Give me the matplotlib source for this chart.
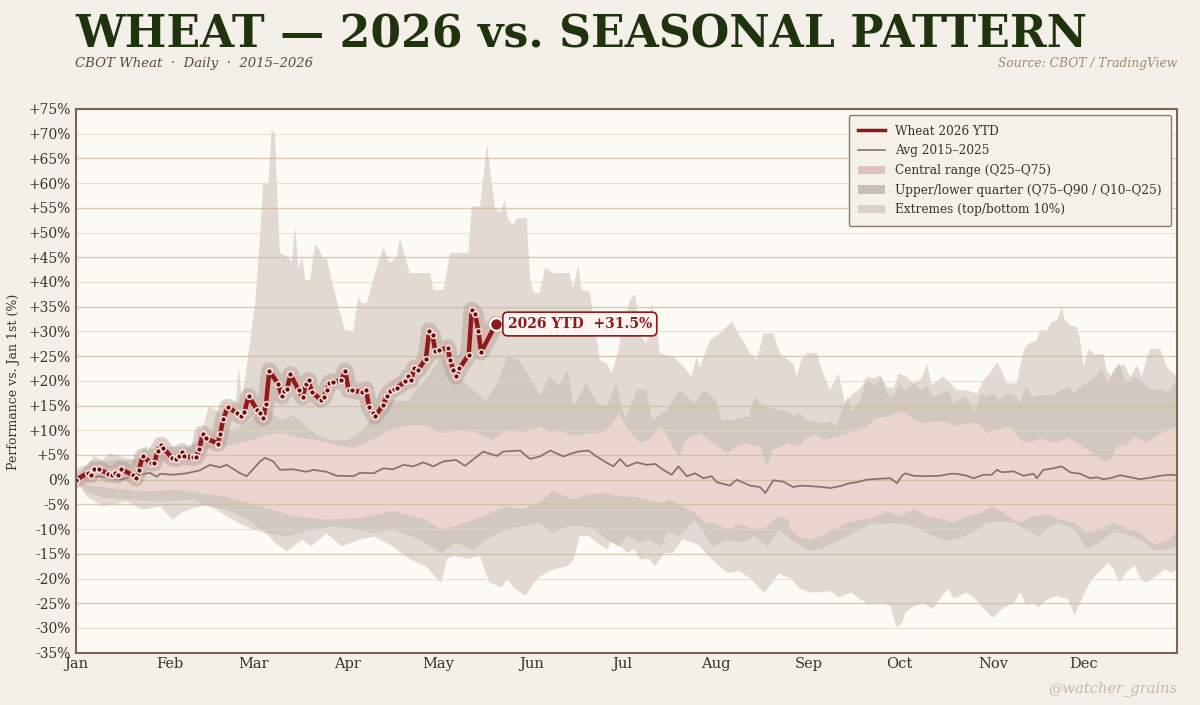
import matplotlib
matplotlib.use("Agg")
import matplotlib.pyplot as plt
from matplotlib.lines import Line2D
from matplotlib.patches import Patch
import numpy as np

# ---------------- DATA ----------------
months = ['Jan', 'Feb', 'Mar', 'Apr', 'May', 'Jun', 'Jul', 'Aug', 'Sep', 'Oct', 'Nov', 'Dec']
month_start_days = [0, 31, 59, 90, 120, 151, 181, 212, 243, 273, 304, 334]
ytick_vals = list(range(-35, 80, 5))

# 2026 YTD (day of year, % vs Jan 1st)
ytd_day = [0, 3.9, 5.0, 6.1, 7.7, 10.5, 11.9, 13.0, 13.8, 14.9, 18.8, 19.9, 20.8, 22.1, 24.9, 26.0,
           27.1, 28.2, 29.0, 31.8, 33.1, 34.0, 35.1, 35.9, 38.7, 39.8, 40.9, 42.0, 43.1, 47.0, 47.8,
           48.8, 50.3, 53.3, 54.7, 55.8, 57.2, 60.0, 61.0, 62.1, 63.0, 64.1, 67.1, 68.2, 69.1, 70.0,
           71.1, 73.8, 75.1, 76.2, 77.1, 78.2, 81.2, 82.1, 83.1, 84.0, 85.1, 87.9, 89.2, 90.4, 91.5,
           94.8, 96.1, 97.2, 98.3, 99.1, 101.9, 103.1, 104.2, 105.3, 106.3, 109.2, 110.2, 111.0,
           112.2, 113.3, 116.0, 117.1, 118.2, 119.1, 120.4, 123.2, 124.1, 125.1, 126.0, 127.1,
           130.2, 131.2, 132.3, 133.4, 134.3, 139.2]
ytd_val = [0.0, 1.35, 1.0, 2.2, 2.2, 1.2, 1.0, 1.35, 0.9, 2.2, 0.9, 0.3, 1.9, 4.7, 3.4, 3.4,
           5.9, 7.0, 6.4, 4.4, 4.2, 4.7, 5.7, 4.7, 4.5, 4.6, 6.2, 9.3, 8.4, 7.3, 9.3,
           12.2, 14.7, 13.5, 12.8, 13.6, 16.9, 14.2, 13.4, 12.5, 15.4, 22.0, 19.3, 16.9, 17.9, 18.4,
           21.3, 18.1, 16.7, 19.3, 20.1, 17.7, 16.2, 16.7, 18.2, 19.6, 19.8, 20.1, 22.0, 18.2, 18.1,
           17.7, 18.2, 14.7, 13.5, 12.8, 15.2, 17.0, 17.9, 18.4, 18.6, 19.9, 20.9, 20.1,
           22.6, 22.1, 24.5, 30.1, 29.2, 26.0, 26.2, 26.7, 24.2, 22.1, 20.9, 22.5,
           25.3, 34.3, 33.6, 30.1, 25.8, 31.5]

# Average 2015-2025
avg_day = [0, 8, 14.6, 21.2, 24.5, 26.8, 27.9, 32.3, 36.7, 41.1, 44.4, 47.7, 50, 54.4, 56.6, 61,
           62.7, 65.4, 67.6, 72, 76.5, 78.7, 83.1, 86.4, 91.9, 94.2, 98.6, 101.9, 105.2, 108.5,
           111.8, 115.1, 118.5, 121.8, 126, 129, 135, 139.5, 141.7, 147.2, 150.5, 153.8, 157.2,
           161.6, 163.2, 166.5, 169.9, 172.6, 176, 178.2, 180.4, 182.6, 185.9, 189.2, 192, 194.7,
           197.5, 199.7, 202.5, 205.2, 208, 210.7, 212.4, 216.8, 219, 223.5, 226.8, 228.5, 231.2,
           234.5, 237.8, 240.1, 243.4, 247.8, 250, 253.3, 256.6, 259, 262, 266.6, 269.9, 272.2,
           273.8, 274.9, 277.6, 282.1, 286.5, 289.8, 292, 295.3, 297.6, 300.9, 303.6, 305.3,
           306.9, 310.8, 314.1, 317.4, 318.5, 320.7, 324, 326.8, 329.6, 332.9, 336.2, 338.4,
           340.6, 342.8, 346.2, 349.5, 352.8, 356.1, 359.4, 362.7, 364.4]
avg_val = [0.0, 0.7, 0.0, 1.0, 1.4, 0.6, 1.2, 1.0, 1.3, 1.9, 3.0, 2.5, 3.0, 1.3, 0.7, 3.7,
           4.4, 3.7, 2.0, 2.1, 1.6, 2.0, 1.6, 0.8, 0.7, 1.4, 1.3, 2.3, 2.1, 3.0,
           2.7, 3.5, 2.7, 3.7, 4.0, 2.8, 5.7, 4.8, 5.7, 5.9, 4.2, 4.7, 5.9,
           4.7, 5.1, 5.7, 5.9, 4.7, 3.4, 2.7, 4.2, 2.7, 3.5, 3.0, 3.2, 2.0,
           1.0, 2.7, 0.7, 1.3, 0.3, 0.7, -0.5, -1.2, 0.0, -1.2, -1.5, -2.7, -0.1,
           -0.4, -1.5, -1.2, -1.3, -1.5, -1.7, -1.3, -0.7, -0.5, 0.0, 0.2, 0.3, -0.7,
           0.8, 1.3, 0.8, 0.7, 0.8, 1.2, 1.2, 0.8, 0.3, 1.0, 1.0, 2.0,
           1.5, 1.7, 0.8, 1.2, 0.3, 2.0, 2.3, 2.7, 1.5, 1.2, 0.3, 0.5,
           0.1, 0.3, 0.9, 0.5, 0.1, 0.4, 0.8, 1.0, 0.9]

# Seasonal distribution envelopes (day of year, %)
max_day = [0, 3.5, 6, 9, 11, 15, 19, 23, 27, 31, 37, 41, 44, 47, 49, 51, 53, 54, 55, 57.5, 59.4,
           61, 62, 63.8, 64.9, 66, 66.5, 67.6, 70.4, 71.5, 72.6, 73.7, 75, 76, 77.6, 79.2, 80.5,
           82, 83, 85.3, 87, 89.2, 91.9, 93.6, 94.8, 96.4, 99.7, 101.9, 104.1, 106.3, 107.4,
           109.1, 110.7, 117.4, 118.5, 121.8, 122.9, 124, 130.1, 131.2, 134, 136.2, 137.3, 138.9,
           140.5, 142.2, 143.3, 145, 146.1, 149.4, 150.5, 151.6, 153.8, 155.5, 158.2, 163.7,
           164.8, 166.5, 167.6, 170.4, 172, 173.7, 175.9, 177.6, 179.8, 181.5, 183.7, 185.4, 187,
           189.2, 190.9, 192.5, 193.6, 198, 201.3, 204.1, 205.7, 206.8, 210.2, 213.5, 217.4,
           220.2, 223.5, 225.7, 227.9, 231.2, 233.4, 237.8, 238.9, 240.6, 242.3, 245.6, 247.3,
           250, 252.8, 255, 257.7, 260, 262.2, 264.4, 266.6, 268.8, 271.1, 272.7, 274.9, 277.6,
           280.4, 282.1, 283.7, 286.5, 287.6, 289.8, 292, 295.3, 298.7, 300.9, 303.6, 305.3,
           306.9, 308.6, 311.9, 314.1, 315.8, 318.5, 319.6, 321.8, 323.5, 325.1, 326.8, 327.9,
           329.6, 331.8, 332.9, 334, 335.7, 337.9, 340.6, 341.7, 343.4, 345, 347.3, 349.5, 351.7,
           353.4, 355, 356.1, 359.4, 361.6, 365]
max_val = [0, 2.7, 4.7, 4.0, 5.4, 4.7, 4.0, 6.7, 6.0, 6.7, 6.7, 8.1, 14.8, 14.0, 12.1, 15.0, 16.0, 23.0,
           16.0, 27.0, 35.8, 49.0, 59.7, 60.0, 70.8, 70.0, 61.0, 45.9, 45.0, 43.9, 51.5, 43.0, 45.0,
           40.4, 40.4, 47.5, 46.8, 44.5, 45.0, 39.0, 35.0, 30.3, 30.0, 37.0, 35.7, 35.7, 43.0, 46.9,
           43.8, 45.0, 48.9, 45.0, 41.8, 41.8, 38.4, 38.4, 41.8, 45.9, 45.9, 55.3, 55.3, 68.0, 62.7,
           55.0, 54.0, 56.6, 52.6, 51.5, 52.9, 52.9, 41.1, 37.8, 37.8, 43.0, 41.8, 41.8, 38.7, 43.4,
           38.4, 38.0, 31.0, 24.2, 23.6, 21.5, 26.3, 31.6, 36.4, 37.7, 29.0, 27.6, 35.7, 31.0, 25.6,
           24.9, 22.9, 20.9, 24.9, 22.6, 28.3, 29.6, 32.0, 29.0, 25.6, 24.2, 29.6, 29.6, 25.5, 23.5,
           20.8, 24.5, 25.6, 25.6, 22.1, 18.1, 21.5, 15.4, 17.4, 18.5, 20.8, 20.5, 21.1, 18.8, 18.5,
           21.5, 21.0, 19.5, 20.5, 23.5, 19.1, 20.5, 20.9, 19.5, 18.1, 18.1, 17.4, 20.1, 22.1, 23.8,
           22.1, 19.5, 19.5, 26.2, 27.5, 28.2, 30.2, 30.2, 31.9, 32.2, 34.9, 32.2, 31.2, 30.9, 28.2,
           22.8, 26.5, 25.2, 25.5, 22.1, 20.8, 22.1, 23.5, 20.8, 23.2, 20.8, 24.8, 26.5, 26.5, 22.8,
           20.8]

q90_day = [0, 3, 7, 12, 18, 24, 30, 36, 42, 47, 52, 56, 60, 64, 68, 72, 76, 80, 85, 90, 95, 100,
           105, 110, 114, 118, 121, 124, 128, 132, 136, 140, 143, 147, 150, 154, 157, 160, 163, 165,
           169, 173, 176, 179, 182, 186, 189, 191, 196, 200, 205, 208, 212, 214, 218, 223, 225, 228,
           233, 236, 238, 240, 242, 245, 248, 250, 252, 254, 256, 257, 260, 262, 263, 265, 267, 269,
           271, 273, 275, 278, 280, 282, 284, 287, 289, 291, 293, 295, 298, 300, 302, 304, 306, 309,
           311, 313, 315, 317, 320, 324, 326, 329, 331, 333, 335, 336, 338, 340, 342, 344, 346, 348,
           351, 353, 355, 357, 359, 362, 365]
q90_val = [0, 2.5, 3.5, 4.0, 4.0, 4.5, 5.0, 6.0, 8.0, 10.0, 10.0, 11.0, 13.0, 14.0, 12.0, 13.0, 11.0,
           9.0, 8.0, 8.0, 10.0, 14.0, 16.0, 16.0, 19.0, 22.0, 25.0, 22.0, 20.0, 18.0, 16.0, 20.0, 25.0,
           24.0, 21.0, 17.0, 20.9, 18.9, 22.2, 14.8, 19.5, 15.5, 14.8, 19.5, 12.1, 18.2, 18.2, 12.1,
           14.1, 18.2, 15.5, 18.2, 16.2, 12.1, 12.1, 12.8, 16.8, 14.8, 14.1, 13.6, 12.8, 13.5, 12.1,
           11.7, 11.4, 11.8, 10.7, 14.1, 16.8, 13.8, 16.1, 19.8, 20.1, 18.8, 20.8, 17.1, 16.8, 19.5,
           18.1, 19.5, 18.1, 19.0, 16.8, 17.5, 18.1, 15.4, 16.4, 16.8, 13.8, 17.4, 16.8, 17.4, 16.1,
           17.4, 17.1, 15.8, 18.8, 16.8, 17.1, 17.1, 18.1, 18.8, 17.4, 18.8, 19.5, 20.1, 20.8, 22.5,
           19.5, 22.1, 23.5, 19.5, 20.8, 20.1, 18.8, 18.1, 18.4, 17.8, 20.1]

q75_day = [0, 3, 7, 12, 18, 25, 31, 38, 45, 52, 58, 63, 68, 74, 80, 86, 92, 98, 104, 110, 116, 121,
           126, 132, 138, 143, 148, 154, 158, 160, 165, 170, 174, 177, 180, 183, 187, 190, 194, 198,
           200, 202, 207, 211, 216, 218, 222, 227, 229, 231, 236, 240, 242, 245, 248, 251, 256, 259,
           262, 265, 269, 272, 274, 278, 281, 284, 289, 292, 295, 299, 302, 305, 309, 311, 313, 316,
           320, 324, 329, 333, 337, 341, 343, 345, 348, 351, 353, 355, 357, 360, 362, 365]
q75_val = [0, 1.5, 2.0, 2.5, 2.5, 3.5, 4.0, 5.0, 6.5, 7.0, 8.0, 9.0, 9.5, 8.5, 8.0, 7.0, 6.5, 8.0,
           10.0, 11.0, 11.0, 9.4, 10.0, 9.7, 8.0, 10.1, 9.5, 10.8, 9.4, 10.0, 8.8, 9.4, 9.4, 10.8,
           13.5, 10.1, 7.4, 8.1, 10.8, 6.7, 4.7, 8.1, 9.4, 7.4, 5.4, 6.5, 7.4, 6.5, 2.7, 6.1, 7.4,
           6.7, 8.4, 9.1, 8.1, 8.5, 9.4, 10.1, 10.7, 12.4, 12.8, 13.4, 13.8, 12.1, 11.4, 11.7, 11.7,
           10.7, 11.4, 11.4, 9.4, 10.0, 10.7, 10.0, 8.1, 7.4, 8.4, 7.4, 8.4, 7.0, 5.4, 3.7, 4.0, 6.7,
           7.0, 8.7, 8.1, 7.4, 8.4, 9.4, 10.1, 10.7]

q25_day = [0, 3, 11, 22, 33, 44, 50, 61, 72, 83, 94, 105, 116, 121, 126, 132, 143, 148, 154, 158,
           165, 170, 176, 180, 185, 189, 193, 197, 201, 205, 209, 212, 216, 220, 225, 229, 233, 236,
           237, 240, 243, 247, 251, 256, 260, 264, 269, 273, 278, 282, 287, 291, 295, 300, 304, 309,
           313, 317, 322, 326, 331, 335, 339, 344, 348, 353, 355, 358, 362, 365]
q25_val = [0, -1.0, -1.7, -2.4, -2.0, -3.0, -3.4, -5.4, -7.4, -8.1, -7.8, -6.4, -8.1, -10.0, -9.4,
           -8.1, -5.4, -6.0, -4.5, -2.3, -4.0, -3.0, -2.7, -3.4, -3.4, -4.0, -4.7, -4.0, -5.4, -6.7,
           -8.8, -8.8, -10.1, -9.0, -10.1, -9.5, -7.4, -8.0, -10.1, -11.7, -12.1, -11.5, -10.1, -8.7,
           -8.1, -7.8, -6.4, -7.4, -6.0, -7.4, -8.0, -8.7, -7.4, -6.7, -5.4, -7.4, -8.7, -7.4, -7.0,
           -8.0, -8.7, -10.7, -10.1, -8.7, -9.7, -10.7, -12.1, -13.1, -12.1, -10.7]

q10_day = [0, 3.5, 9, 17, 28, 39, 44, 50, 57, 63, 70, 78, 85, 92, 99, 105, 114, 121, 126, 132, 136,
           143, 148, 154, 158, 163, 168, 172, 176, 180, 183, 187, 190, 194, 196, 200, 205, 208, 211,
           216, 220, 225, 229, 233, 237, 240, 243, 247, 251, 256, 260, 264, 267, 271, 275, 280, 284,
           289, 293, 298, 302, 306, 311, 315, 319, 322, 326, 331, 335, 339, 344, 348, 353, 357, 360,
           365]
q10_val = [0, -2.4, -3.7, -4.0, -4.4, -4.0, -5.4, -6.1, -8.1, -10.8, -11.5, -10.1, -9.4, -10.0,
           -10.8, -10.1, -12.1, -14.8, -12.8, -14.1, -12.1, -10.0, -9.4, -8.8, -10.8, -9.4, -9.4,
           -10.0, -12.1, -13.5, -11.4, -12.8, -12.1, -13.5, -10.5, -11.4, -8.1, -10.5, -13.5, -12.1,
           -12.8, -11.4, -13.5, -10.1, -12.1, -13.4, -14.4, -14.0, -12.8, -11.4, -10.1, -8.7, -9.0,
           -8.7, -9.0, -10.0, -11.4, -12.4, -11.8, -10.5, -8.7, -8.4, -8.7, -10.1, -11.4, -9.8, -8.7,
           -10.1, -14.1, -12.8, -10.4, -11.1, -12.1, -14.1, -14.4, -13.4]

min_day = [0, 3.5, 9, 17, 22, 28, 32, 35, 39, 44, 50, 54, 59, 63, 66, 70, 72, 75, 78, 83, 88, 94,
           99, 105, 111, 116, 121, 123, 125, 130, 134, 135, 137, 141, 143, 145, 149, 152, 154, 158,
           163, 165, 167, 170, 173, 176, 178, 179, 183, 185, 187, 190, 192, 195, 198, 201, 206, 211,
           216, 220, 224, 228, 230, 233, 237, 240, 243, 247, 250, 253, 257, 260, 263, 267, 270, 272,
           274, 275, 278, 281, 284, 287, 289, 291, 293, 295, 298, 300, 304, 307, 311, 313, 315, 317,
           319, 322, 325, 329, 331, 333, 335, 337, 340, 342, 344, 346, 348, 351, 353, 355, 358, 361,
           363, 365]
min_val = [0, -3.4, -5.4, -4.4, -6.1, -5.4, -8.1, -6.7, -5.7, -5.1, -7.4, -8.8, -10.1, -10.8, -12.8,
           -14.5, -13.5, -12.1, -13.5, -10.8, -13.5, -12.1, -11.5, -13.5, -16.2, -17.5, -20.9, -16.0,
           -15.4, -16.0, -15.4, -17.4, -20.8, -21.8, -20.1, -21.8, -23.5, -20.8, -19.5, -18.2, -17.5,
           -16.2, -11.4, -11.4, -12.8, -14.1, -12.1, -12.8, -14.8, -14.0, -16.2, -16.0, -17.5, -14.8,
           -14.8, -12.1, -13.0, -16.2, -18.9, -18.5, -20.2, -22.9, -21.5, -19.0, -20.0, -22.0, -22.8,
           -22.8, -22.5, -23.8, -22.8, -24.2, -25.2, -24.8, -25.5, -29.9, -28.9, -26.8, -25.5, -25.0,
           -26.2, -23.5, -22.1, -24.0, -23.5, -22.8, -24.0, -25.5, -27.9, -26.2, -24.8, -22.8, -25.5,
           -24.8, -25.8, -24.2, -23.5, -24.2, -27.5, -24.8, -22.1, -20.1, -18.1, -16.8, -18.1, -20.8,
           -18.8, -17.4, -20.1, -20.8, -19.5, -18.1, -18.8, -18.1]

# ---------------- STYLE ----------------
FIG_BG = '#f4f0e9'
AX_BG = '#fcfaf5'
SERIF = 'DejaVu Serif'
C_EXT = '#e2dad2'
C_QTR = '#d2c8c0'
C_CEN = '#ebd5ce'
C_YTD = '#8b1a1a'
C_AVG = '#85736b'
C_TXT = '#3d3229'

plt.rcParams['font.family'] = [SERIF, 'DejaVu Sans']

fig = plt.figure(figsize=(12, 7.05), dpi=100, facecolor=FIG_BG)
ax = fig.add_axes([76 / 1200, (705 - 652.7) / 705, (1177 - 76) / 1200, (652.7 - 109) / 705])
ax.set_facecolor(AX_BG)


def band(ax, xa, ya, xb, yb, color, z):
    xs = np.concatenate([np.asarray(xa, float), np.asarray(xb, float)[::-1]])
    ys = np.concatenate([np.asarray(ya, float), np.asarray(yb, float)[::-1]])
    ax.fill(xs, ys, color=color, lw=0, zorder=z)


band(ax, max_day, max_val, min_day, min_val, C_EXT, 1)
band(ax, q90_day, q90_val, q10_day, q10_val, C_QTR, 1.1)
band(ax, q75_day, q75_val, q25_day, q25_val, C_CEN, 1.2)

# gridlines
for v in ytick_vals:
    strong = (v % 10 != 0) or v == 0
    ax.axhline(v, color='#cdbb9c' if strong else '#e3d8c4', lw=1.0 if strong else 0.8,
               alpha=0.75, zorder=1.5)

# average line
ax.plot(avg_day, avg_val, color=C_AVG, lw=1.25, zorder=3)

# YTD with glow
ax.plot(ytd_day, ytd_val, color='#9a8a84', lw=12, alpha=0.35, solid_capstyle='round',
        solid_joinstyle='round', zorder=4)
ax.plot(ytd_day, ytd_val, color='#e6b3aa', lw=6.5, alpha=0.7, solid_capstyle='round',
        solid_joinstyle='round', zorder=4.1)
ax.plot(ytd_day, ytd_val, color=C_YTD, lw=3.2, solid_joinstyle='round', zorder=5)
ax.plot(ytd_day[:-1], ytd_val[:-1], ls='none', marker='o', ms=4.2, mfc='#6e0c0c',
        mec='#fbe9e5', mew=1.1, zorder=6)
ax.plot(ytd_day[-1], ytd_val[-1], ls='none', marker='o', ms=9, mfc=C_YTD, mec='white',
        mew=1.5, zorder=7)
ax.annotate(f"2026 YTD  +{ytd_val[-1]:.1f}%", xy=(ytd_day[-1], ytd_val[-1]),
            xytext=(8.5, 0), textcoords='offset points', ha='left', va='center',
            fontsize=10, fontweight='bold', color=C_YTD, zorder=8,
            bbox=dict(boxstyle='round,pad=0.35', fc='#fdf4f1', ec=C_YTD, lw=1.2))

ax.set_xlim(0, 365)
ax.set_ylim(-35, 75)
ax.set_xticks(month_start_days)
ax.set_xticklabels(months)
ax.set_yticks(ytick_vals)
ax.set_yticklabels([f"+{v}%" if v > 0 else f"{v}%" for v in ytick_vals])
ax.tick_params(length=0, labelsize=10, labelcolor=C_TXT, pad=4)
ax.tick_params(axis='x', labelsize=10.5, pad=3)
for s in ax.spines.values():
    s.set_color('#7a6652')
    s.set_linewidth(1.5)
    s.set_zorder(10)

fig.text(14 / 1200, 0.459, "Performance vs. Jan 1st (%)", rotation=90, ha='center', va='center',
         fontsize=9, color=C_TXT)

# legend
handles = [
    Line2D([], [], color=C_YTD, lw=2.5),
    Line2D([], [], color=C_AVG, lw=1.2),
    Patch(facecolor='#dcc3bd', edgecolor='none'),
    Patch(facecolor='#c9beb5', edgecolor='none'),
    Patch(facecolor='#d9d1c9', edgecolor='none'),
]
labels = ["Wheat 2026 YTD", "Avg 2015–2025", "Central range (Q25–Q75)",
          "Upper/lower quarter (Q75–Q90 / Q10–Q25)", "Extremes (top/bottom 10%)"]
leg = ax.legend(handles, labels, loc='upper right', fontsize=8.7, frameon=True, fancybox=True,
                facecolor='#f5f0e8', edgecolor='#8a7a68', framealpha=1, borderaxespad=0.5,
                labelspacing=0.55, handlelength=2.2, borderpad=0.8)
leg.get_frame().set_linewidth(1.0)
for t in leg.get_texts():
    t.set_color(C_TXT)
leg.set_zorder(12)

# titles
fig.text(75 / 1200, 1 - 48 / 705, "WHEAT — 2026 vs. SEASONAL PATTERN", fontsize=31.8,
         fontweight='bold', color='#1f330f', ha='left', va='baseline')
fig.text(75 / 1200, 1 - 64 / 705, "CBOT Wheat  ·  Daily  ·  2015–2026", fontsize=9.5,
         style='italic', color='#5a4a3a', ha='left', va='center')
fig.text(1177 / 1200, 1 - 64 / 705, "Source: CBOT / TradingView", fontsize=8.8,
         style='italic', color='#a08a70', ha='right', va='center')
fig.text(1177 / 1200, 1 - 689 / 705, "@watcher_grains", fontsize=10.5,
         style='italic', color='#c8b8a6', ha='right', va='center')

fig.savefig("out.png", dpi=100, facecolor=FIG_BG)
